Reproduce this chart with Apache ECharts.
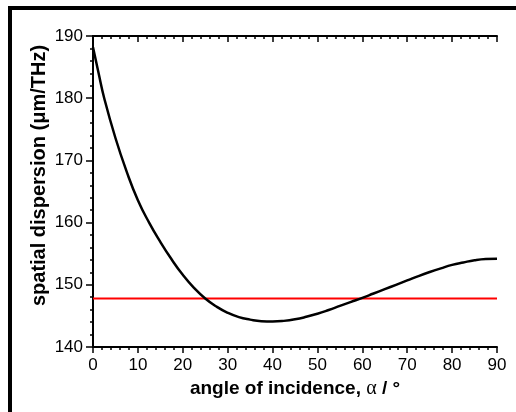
<!DOCTYPE html>
<html>
  <head>
    <meta charset="utf-8">
    <title>spatial dispersion</title>
    <style>
      html, body { margin: 0; padding: 0; background: #fff; }
    </style>
  </head>
  <body>
    <div id="main" style="width: 516px;height:412px;"></div>
    <script src="https://cdn.jsdelivr.net/npm/echarts@6/dist/echarts.min.js"></script>
    <script type="text/javascript">

        // angle of incidence (deg) and spatial dispersion (um/THz)
        var angles = [0, 1.25, 2.5, 5, 7.5, 10, 12.5, 15, 17.5, 20, 22.5, 25, 27.5, 30, 32.5, 35, 37.5, 40,
                      42.5, 45, 47.5, 50, 52.5, 55, 57.5, 60, 62.5, 65, 67.5, 70, 72.5, 75, 77.5, 80,
                      82.5, 85, 87.5, 90];
        var dispersion = [188.2, 184.0, 180.0, 173.6, 168.2, 163.6, 160.0, 156.9, 154.1, 151.6, 149.5, 147.8,
                          146.5, 145.5, 144.8, 144.4, 144.15, 144.1, 144.2, 144.45, 144.85, 145.35, 145.95, 146.6,
                          147.25, 147.9, 148.6, 149.3, 150.0, 150.7, 151.4, 152.05, 152.65, 153.2, 153.6, 153.95,
                          154.15, 154.2];
        var refX = [0, 90];
        var refY = [147.8, 147.8];

        var curve = angles.map(function (a, i) { return [a, dispersion[i]]; });
        var ref = refX.map(function (a, i) { return [a, refY[i]]; });

        var myChart = echarts.init(document.getElementById('main'));

        var font = 'Liberation Sans, Arial, sans-serif';
        var axLine = { show: true, lineStyle: { color: '#000', width: 2 } };

        myChart.setOption({
            animation: false,
            backgroundColor: '#fff',
            grid: { left: 93, right: 19, top: 36, bottom: 65 },
            graphic: [
                { type: 'rect', shape: { x: 8, y: 6, width: 508, height: 4 }, style: { fill: '#000' } },
                { type: 'rect', shape: { x: 8, y: 6, width: 4, height: 406 }, style: { fill: '#000' } }
            ],
            xAxis: [{
                type: 'value', min: 0, max: 90, interval: 10, position: 'bottom',
                axisLine: axLine,
                axisTick: { inside: false, length: 6, lineStyle: { color: '#000', width: 1.5 } },
                minorTick: { show: true, splitNumber: 5, length: 3, lineStyle: { color: '#000', width: 1.5 } },
                axisLabel: { color: '#000', fontSize: 17, fontFamily: font, margin: 10 },
                splitLine: { show: false },
                name: 'angle of incidence, {a|α} / °',
                nameLocation: 'middle', nameGap: 32, nameMoveOverlap: false,
                nameTextStyle: {
                    color: '#000', fontSize: 19, fontWeight: 'bold', fontFamily: font,
                    rich: { a: { fontFamily: 'Liberation Serif, serif', fontSize: 20, fontWeight: 'normal', color: '#000' } }
                }
            }, {
                type: 'value', min: 0, max: 90, interval: 10, position: 'top',
                axisLine: axLine,
                axisTick: { inside: true, length: 6, lineStyle: { color: '#000', width: 1.5 } },
                minorTick: { show: true, splitNumber: 5, length: 3, lineStyle: { color: '#000', width: 1.5 } },
                axisLabel: { show: false },
                splitLine: { show: false }
            }],
            yAxis: [{
                type: 'value', min: 140, max: 190, interval: 10, position: 'left',
                axisLine: axLine,
                axisTick: { inside: false, length: 7, lineStyle: { color: '#000', width: 1.5 } },
                minorTick: { show: true, splitNumber: 5, length: 3, lineStyle: { color: '#000', width: 1.5 } },
                axisLabel: { color: '#000', fontSize: 17, fontFamily: font, margin: 10 },
                splitLine: { show: false },
                name: 'spatial dispersion (μm/THz)',
                nameLocation: 'middle', nameGap: 44, nameMoveOverlap: false,
                nameTextStyle: { color: '#000', fontSize: 20, fontWeight: 'bold', fontFamily: font, padding: [0, 0, 0, 32] }
            }, {
                type: 'value', min: 140, max: 190, interval: 10, position: 'right',
                axisLine: axLine,
                axisTick: { inside: true, length: 6, lineStyle: { color: '#000', width: 1.5 } },
                minorTick: { show: true, splitNumber: 5, length: 3, lineStyle: { color: '#000', width: 1.5 } },
                axisLabel: { show: false },
                splitLine: { show: false }
            }],
            series: [{
                name: 'reference',
                type: 'line',
                data: ref,
                symbol: 'none',
                lineStyle: { color: '#ff0000', width: 2 }
            }, {
                name: 'dispersion',
                type: 'line',
                data: curve,
                smooth: 0.5,
                symbol: 'none',
                lineStyle: { color: '#000', width: 2.5 }
            }]
        });
    </script>
  </body>
</html>
